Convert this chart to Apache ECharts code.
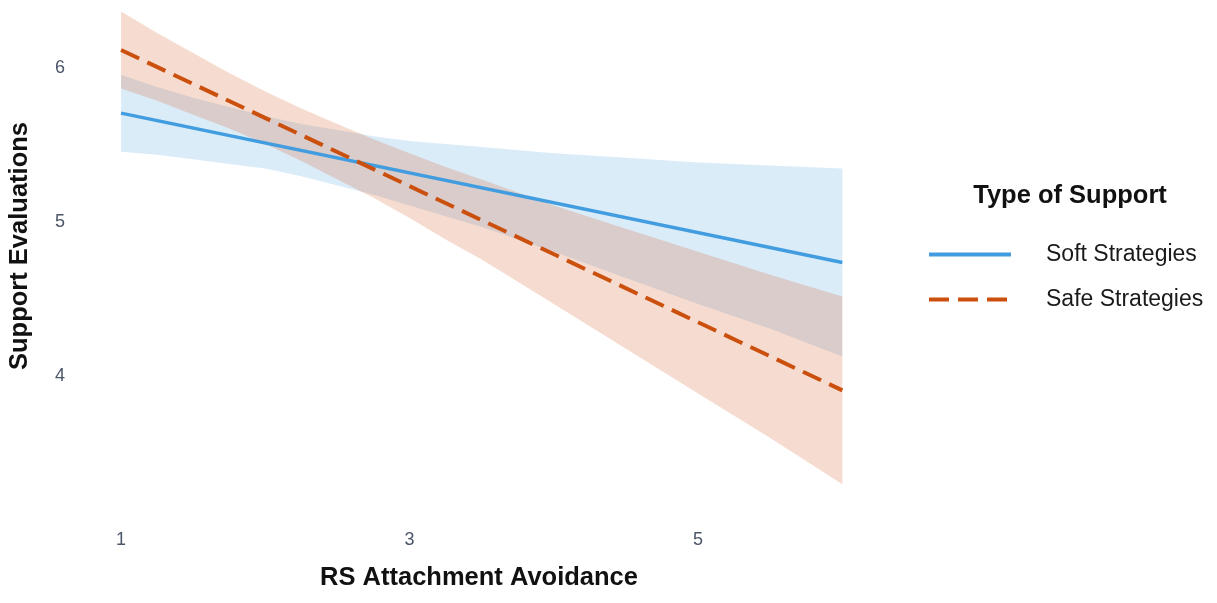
<!DOCTYPE html>
<html><head><meta charset="utf-8">
<script src="https://cdn.jsdelivr.net/npm/echarts@6/dist/echarts.min.js"></script>
<style>html,body{margin:0;padding:0;background:#fff}#c{width:1217px;height:603px}</style>
</head><body><div id="c"></div>
<script>
// x positions where the confidence band edges were read
const bandX     = [1,    1.25, 1.5,  1.75, 2,    2.25, 2.5,  2.75, 3,    3.25, 3.5,  4,    4.5,  5,    5.5,  6];
const softUpper = [5.96, 5.88, 5.81, 5.75, 5.69, 5.64, 5.60, 5.56, 5.53, 5.51, 5.49, 5.45, 5.42, 5.39, 5.37, 5.35];
const softLower = [5.46, 5.44, 5.41, 5.38, 5.35, 5.30, 5.24, 5.18, 5.11, 5.04, 4.97, 4.81, 4.64, 4.47, 4.31, 4.13];
const safeUpper = [6.37, 6.23, 6.10, 5.97, 5.85, 5.74, 5.64, 5.54, 5.45, 5.36, 5.28, 5.11, 4.96, 4.81, 4.66, 4.52];
const safeLower = [5.87, 5.79, 5.70, 5.61, 5.51, 5.40, 5.28, 5.16, 5.03, 4.89, 4.76, 4.47, 4.18, 3.89, 3.60, 3.30];
// fitted lines (end points)
const lineX = [1, 6];
const softLine = [5.71, 4.74];
const safeLine = [6.12, 3.91];
// tick labels
const xTickLabels = [1, 3, 5];
const yTickLabels = [4, 5, 6];
const seriesNames = ['Soft Strategies', 'Safe Strategies'];

const FONT = '"Liberation Sans", Arial, sans-serif';
const pairs = (xs, ys) => xs.map((x, i) => [x, ys[i]]);
const isTick = (v, list) => list.some(t => Math.abs(v - t) < 1e-6);

function band(lower, upper, color) {
  return {
    type: 'custom', silent: true, z: 1, clip: true,
    data: bandX.map((x, i) => [x, lower[i], upper[i]]),
    encode: { x: 0, y: [1, 2] },
    renderItem: function (params, api) {
      if (params.dataIndex !== 0) return null;
      const top = bandX.map((x, i) => api.coord([x, upper[i]]));
      const bot = bandX.map((x, i) => api.coord([x, lower[i]])).reverse();
      return { type: 'polygon', shape: { points: top.concat(bot) }, style: { fill: color } };
    }
  };
}

const chart = echarts.init(document.getElementById('c'), null, { renderer: 'canvas' });
chart.setOption({
  animation: false,
  backgroundColor: '#ffffff',
  grid: { left: 85, right: 338.6, top: 6.9, bottom: 87.9, containLabel: false, outerBoundsMode: 'none' },
  xAxis: {
    type: 'value', min: 0.75, max: 6.25, interval: 0.25,
    axisLine: { show: false }, axisTick: { show: false }, splitLine: { show: false },
    axisLabel: {
      margin: 16, fontSize: 18, color: '#4A5568', fontFamily: FONT,
      formatter: v => isTick(v, xTickLabels) ? String(Math.round(v)) : ''
    }
  },
  yAxis: {
    type: 'value', min: 3.1, max: 6.4, interval: 0.1,
    axisLine: { show: false }, axisTick: { show: false }, splitLine: { show: false },
    axisLabel: {
      margin: 20, fontSize: 18, color: '#4A5568', fontFamily: FONT,
      formatter: v => isTick(v, yTickLabels) ? String(Math.round(v)) : ''
    }
  },
  legend: {
    data: seriesNames,
    orient: 'vertical', left: 922, top: 238,
    itemWidth: 82, itemHeight: 14, itemGap: 22,
    itemStyle: { opacity: 0 },
    lineStyle: { width: 4 },
    textStyle: { fontSize: 23, color: '#1a1a1a', fontFamily: FONT, padding: [0, 0, 0, 30] }
  },
  graphic: [
    { type: 'text', x: 20, y: 246, rotation: Math.PI / 2,
      style: { text: 'Support Evaluations', font: 'bold 25.5px ' + FONT, fill: '#111',
               textAlign: 'center', textVerticalAlign: 'middle' } },
    { type: 'text', x: 479, y: 578,
      style: { text: 'RS Attachment Avoidance', font: 'bold 25.5px ' + FONT, fill: '#111',
               textAlign: 'center', textVerticalAlign: 'middle' } },
    { type: 'text', x: 1070, y: 196,
      style: { text: 'Type of Support', font: 'bold 25.5px ' + FONT, fill: '#111',
               textAlign: 'center', textVerticalAlign: 'middle' } }
  ],
  series: [
    band(softLower, softUpper, 'rgba(55,150,220,0.18)'),
    band(safeLower, safeUpper, 'rgba(210,80,20,0.20)'),
    { name: seriesNames[0], type: 'line', data: pairs(lineX, softLine), symbol: 'none', z: 3,
      lineStyle: { color: '#419DDF', width: 3.5 }, itemStyle: { color: '#419DDF' } },
    { name: seriesNames[1], type: 'line', data: pairs(lineX, safeLine), symbol: 'none', z: 3,
      lineStyle: { color: '#CB4F0D', width: 4, type: [20, 9] }, itemStyle: { color: '#CB4F0D' } }
  ]
});
</script>
</body></html>
